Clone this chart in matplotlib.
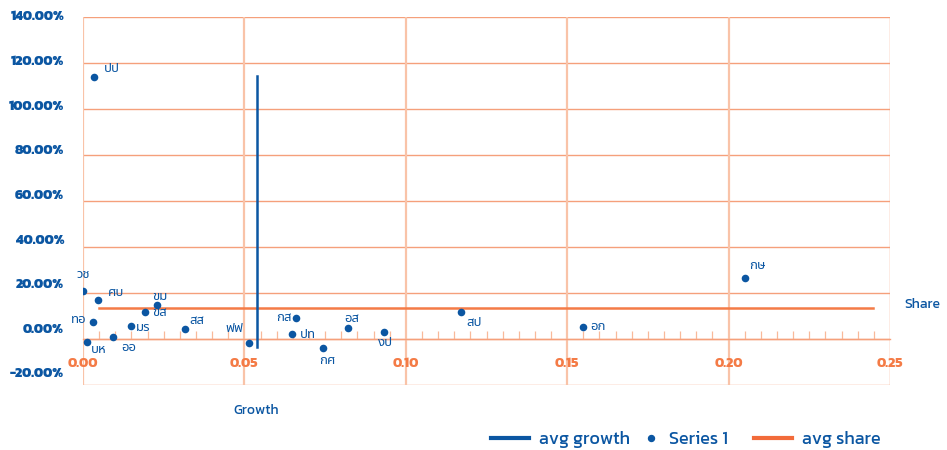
import matplotlib
matplotlib.use("Agg")
import matplotlib.pyplot as plt
from matplotlib.ticker import MultipleLocator, FuncFormatter
from matplotlib.lines import Line2D
from matplotlib.transforms import blended_transform_factory, offset_copy

# ---- data ----
labels = ["ปป", "วช", "ศบ", "ขม", "ขส", "ทอ", "มร", "สส", "บห", "ออ",
          "ฟฟ", "กส", "ปท", "กศ", "อส", "งป", "สป", "อก", "กษ"]
growth = [0.0035, 0.0000, 0.0046, 0.0229, 0.0192, 0.0030, 0.0149, 0.0315, 0.0013, 0.0094,
          0.0514, 0.0660, 0.0649, 0.0744, 0.0821, 0.0931, 0.1171, 0.1550, 0.2051]
share = [113.9, 20.9, 16.8, 14.9, 11.9, 7.5, 5.8, 4.2, -1.4, 1.0,
         -1.9, 9.3, 2.0, -3.9, 4.6, 3.2, 11.7, 5.2, 26.4]
avg_growth_x = [0.0539, 0.0539]
avg_growth_y = [114.3, -3.6]
avg_share_x = [0.0050, 0.2447]
avg_share_y = [13.4, 13.4]
x_ticks = [0.00, 0.05, 0.10, 0.15, 0.20, 0.25]
y_ticks = [-20, 0, 20, 40, 60, 80, 100, 120, 140]
legend_names = ["avg growth", "Series 1", "avg share"]

# ---- styles ----
BLUE = "#0B56A2"
ORANGE = "#F47B46"
LEG_ORANGE = "#F26B3A"
GRID = "#F5A07B"
VGRID = "#F9C3A8"
THAI = ["Noto Sans Thai", "DejaVu Sans"]
LAT = ["Kanit", "DejaVu Sans"]
YLABEL_SQUEEZE = 0.97  # y tick labels in the reference sit on a slightly tighter pitch than the grid

# label offsets in pixels (dx, dy, ha, va)
offsets = [(10, 2, "left", "bottom"), (0, 10, "center", "bottom"), (10, 1, "left", "bottom"),
           (3, 2, "center", "bottom"), (7, -1, "left", "center"), (-6, 2, "right", "center"),
           (5, -2, "left", "center"), (5, 2, "left", "bottom"), (4, -7, "left", "center"),
           (8, -4, "left", "top"), (-5, 8, "right", "bottom"), (-4, 0, "right", "center"),
           (7, 0, "left", "center"), (4, -6, "center", "top"), (4, 3, "center", "bottom"),
           (2, -4, "center", "top"), (5, -4, "left", "top"), (7, 1, "left", "center"),
           (4, 6, "left", "bottom")]

fig = plt.figure(figsize=(9.47, 4.5), dpi=100)
ax = fig.add_axes([83/947, 1-385/450, (890-83)/947, (385-17)/450])

ax.set_xlim(0, 0.25)
ax.set_ylim(-20, 140)
ax.set_xticks(x_ticks)
ax.set_yticks(y_ticks)
ax.xaxis.set_minor_locator(MultipleLocator(0.005))

for y in y_ticks:
    ax.axhline(y, color=GRID, lw=1.0, zorder=1)
for x in x_ticks:
    ax.axvline(x, color=VGRID if x < 0.25 else GRID, lw=1.6 if x < 0.25 else 1.0, zorder=1)

for s in ["top", "right", "left"]:
    ax.spines[s].set_visible(False)
ax.spines["bottom"].set_position(("data", 0))
ax.spines["bottom"].set_color(GRID)
ax.spines["bottom"].set_linewidth(1.0)

ax.tick_params(axis="x", which="major", length=0, pad=13, labelcolor=ORANGE, labelsize=10)
ax.tick_params(axis="x", which="minor", direction="in", length=5.5, width=0.9, color="#F9B999")
ax.tick_params(axis="y", length=0, labelleft=False)
ax.xaxis.set_major_formatter(FuncFormatter(lambda v, p: f"{v:.2f}"))
for t in ax.get_xticklabels():
    t.set_fontfamily(LAT); t.set_fontweight("bold")

# y tick labels (drawn as text so they can follow the reference's slightly tighter pitch)
ytrans = offset_copy(blended_transform_factory(ax.transAxes, ax.transData), fig=fig, x=-19, y=0, units="dots")
for v in y_ticks:
    ax.text(0, 140 - (140 - v) * YLABEL_SQUEEZE, f"{v:.2f}%", transform=ytrans, ha="right", va="center",
            color=BLUE, fontsize=9.8, fontweight=800, family=LAT, clip_on=False)

ax.plot(avg_share_x, avg_share_y, color=ORANGE, lw=1.8, zorder=3)
ax.plot(avg_growth_x, avg_growth_y, color=BLUE, lw=1.8, zorder=3)
ax.scatter(growth, share, s=30, color=BLUE, zorder=4, linewidths=0)

for lab, x, y, (dx, dy, ha, va) in zip(labels, growth, share, offsets):
    ax.annotate(lab, (x, y), xytext=(dx, dy), textcoords="offset pixels",
                ha=ha, va=va, color=BLUE, fontsize=9.5, family=THAI, zorder=5)

fig.text(256/947, 1-411/450, "Growth", color=BLUE, fontsize=10, family=LAT, ha="center", va="center")
fig.text(922/947, 1-305/450, "Share", color=BLUE, fontsize=10, family=LAT, ha="center", va="center")

# legend: one entry per legend box so each key can sit where the reference has it
handles = [Line2D([], [], color=BLUE, lw=3),
           Line2D([], [], color=BLUE, marker="o", ls="none", markersize=4.3),
           Line2D([], [], color=LEG_ORANGE, lw=3)]
leg_left_px = [491, 644, 754]
leg_handlelen = [2.1, 0.8, 2.1]
for h, name, lx, hl in zip(handles, legend_names, leg_left_px, leg_handlelen):
    lg = fig.legend([h], [name], loc="center left", bbox_to_anchor=(lx/947, 1-440/450),
                    frameon=False, borderpad=0, borderaxespad=0, handlelength=hl,
                    handletextpad=0.58, prop={"family": LAT, "size": 13})
    for t in lg.get_texts():
        t.set_color(BLUE)

fig.savefig("out.png", dpi=100)
